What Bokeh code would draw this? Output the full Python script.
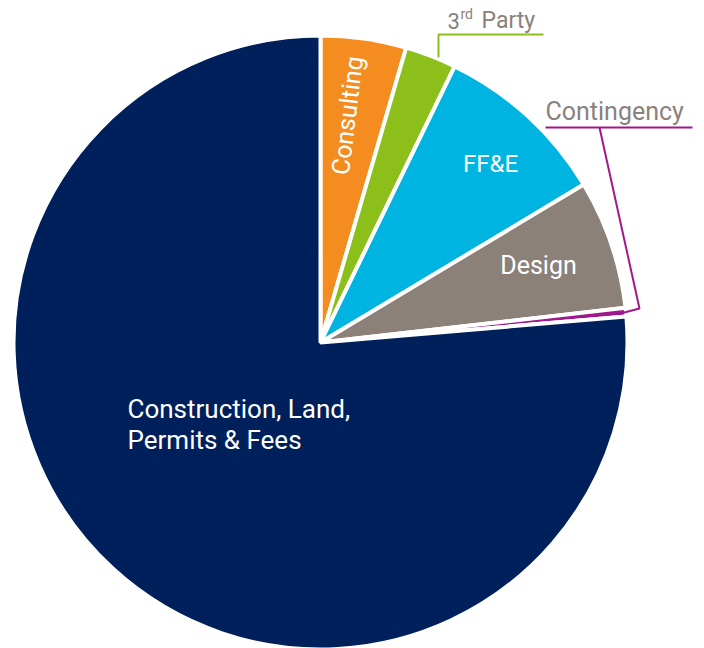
import numpy as np
import pandas as pd
from bokeh.plotting import figure
from bokeh.models import Range1d, ColumnDataSource
from bokeh.core.properties import value
from bokeh.embed import file_html
from bokeh.resources import INLINE

# ---- data (percent of total budget), clockwise from 12 o'clock ----
categories = ["Consulting", "3rd Party", "FF&E", "Design", "Contingency",
              "Construction, Land,\nPermits & Fees"]
shares = [4.5, 2.7, 9.2, 6.8, 0.45, 76.35]
colors = ["#F48C20", "#8CBF1A", "#00B4E1", "#8B8179", "#A0188C", "#00205B"]

# ---- styles / layout ----
W, H = 704, 648
CX, CY, R = 320, 306, 307
FONT = "Roboto"
LABEL_GREY = "#8A817C"

df = pd.DataFrame({"cat": categories, "share": shares, "color": colors})
frac = df["share"] / df["share"].sum()
theta_end = np.cumsum(frac) * 2 * np.pi          # clockwise from 12 o'clock
theta_start = theta_end - frac * 2 * np.pi
df["start"] = np.pi / 2 - theta_end               # bokeh: anticlockwise from +x
df["end"] = np.pi / 2 - theta_start
df["x"] = CX
df["y"] = CY
src = ColumnDataSource(df)

p = figure(width=W, height=H, x_range=Range1d(0, W), y_range=Range1d(0, H),
           output_backend="svg", toolbar_location=None, min_border=0,
           x_axis_location=None, y_axis_location=None)
p.grid.visible = False
p.outline_line_color = None

p.wedge(x="x", y="y", radius=R, start_angle="start", end_angle="end",
        fill_color="color", line_color="white", line_width=4, source=src)

# ---- inside labels ----
p.text(x=[347], y=[533], text=[categories[0]], angle=83, angle_units="deg",
       text_color="white", text_font=value(FONT), text_font_size="25px",
       text_align="center", text_baseline="middle")
p.text(x=[490], y=[485], text=[categories[2]], text_color="white",
       text_font=value(FONT), text_font_size="24px",
       text_align="center", text_baseline="middle")
p.text(x=[538], y=[383], text=[categories[3]], text_color="white",
       text_font=value(FONT), text_font_size="25px",
       text_align="center", text_baseline="middle")
con_lines = categories[5].split("\n")
p.text(x=[127, 127], y=[240, 209], text=con_lines, text_color="white",
       text_font=value(FONT), text_font_size="26px",
       text_align="left", text_baseline="alphabetic")

# ---- outside labels with leaders ----
# 3rd Party (with superscript)
p.text(x=[447], y=[628], text=["3"], text_color=LABEL_GREY,
       text_font=value(FONT), text_font_size="22px",
       text_align="left", text_baseline="alphabetic")
p.text(x=[460], y=[635], text=["rd"], text_color=LABEL_GREY,
       text_font=value(FONT), text_font_size="14px",
       text_align="left", text_baseline="alphabetic")
p.text(x=[481], y=[628], text=["Party"], text_color=LABEL_GREY,
       text_font=value(FONT), text_font_size="23px",
       text_align="left", text_baseline="alphabetic")
p.line(x=[438, 438, 543], y=[591, 614, 614], line_color=colors[1], line_width=2)

# Contingency
p.text(x=[545], y=[537], text=[categories[4]], text_color=LABEL_GREY,
       text_font=value(FONT), text_font_size="25px",
       text_align="left", text_baseline="alphabetic")
p.line(x=[545, 692], y=[521, 521], line_color=colors[4], line_width=2)
p.line(x=[599, 639, 620], y=[521, 340, 335], line_color=colors[4], line_width=2)

open("out.html", "w").write(file_html(p, INLINE))
